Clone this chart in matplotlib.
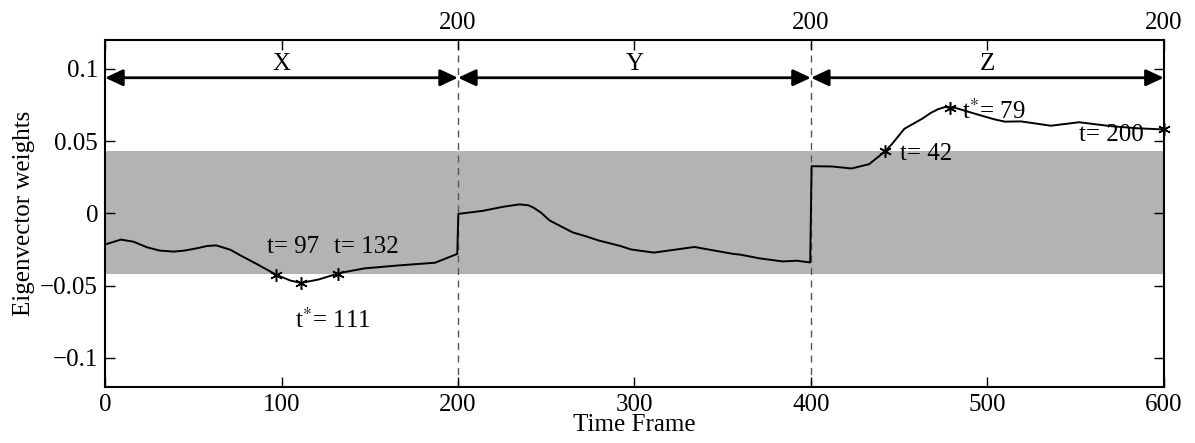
import numpy as np
import matplotlib.pyplot as plt
from matplotlib.ticker import FixedLocator

plt.rcParams['font.family'] = ['Liberation Serif', 'DejaVu Serif']
plt.rcParams['font.size'] = 18
plt.rcParams['mathtext.fontset'] = 'stix'

# eigenvector weight per time frame (three 200-frame sequences back to back)
frames = [0, 1, 9, 16, 24, 31, 39, 45, 52, 58, 63, 71, 77, 86, 94, 97, 105, 111, 121, 133, 147,
          167, 187, 199.6,
          200.2, 214, 226, 235, 240, 243, 247, 252, 258, 265, 273, 280, 292, 298, 311, 334, 356,
          360, 371, 384, 392, 399.6,
          400.4, 412, 423, 433, 442, 446, 453, 463, 468, 472, 476, 482, 493, 504, 510, 519, 536,
          552, 570, 584, 600]
weights = [-0.0217, -0.0212, -0.0182, -0.0196, -0.0236, -0.0258, -0.0265, -0.0258, -0.0242,
           -0.0226, -0.0222, -0.0252, -0.0293, -0.0351, -0.0405, -0.0425, -0.0465, -0.0482,
           -0.0458, -0.0413, -0.0381, -0.0360, -0.0342, -0.0281,
           -0.0004, 0.0017, 0.0046, 0.0062, 0.0055, 0.0038, 0.0005, -0.0050, -0.0088, -0.0132,
           -0.0161, -0.0189, -0.0226, -0.0250, -0.0272, -0.0233, -0.0281,
           -0.0286, -0.0312, -0.0333, -0.0328, -0.0340,
           0.0326, 0.0324, 0.0310, 0.0340, 0.0428, 0.0480, 0.0585, 0.0654, 0.0695, 0.0720,
           0.0735, 0.0729, 0.0689, 0.0650, 0.0634, 0.0636, 0.0606, 0.0630, 0.0603, 0.0589, 0.0580]

# marked frames and their annotations
mark_frames = [97, 111, 132, 442, 479, 600]
notes = ['t= 97', 't= 132', 't$^{*}$= 111', 't= 42', 't$^{*}$= 79', 't= 200']
note_x = [92, 129.5, 107.5, 450.5, 485.5, 552]
note_y = [-0.0236, -0.0236, -0.0744, 0.0410, 0.0705, 0.0540]

seg_edges = [0, 200, 400, 600]
seg_names = ['X', 'Y', 'Z']
band = (-0.0423, 0.0428)

fig = plt.figure(figsize=(11.95, 4.43), dpi=100)
ax = fig.add_axes([0.0879, 0.127, 0.886, 0.783])

ax.axhspan(band[0], band[1], color='#b3b3b3', lw=0, zorder=0)
for xb in seg_edges[1:-1]:
    ax.axvline(xb, color='#555555', ls=(0, (5, 4)), lw=1.0, zorder=1)

ax.plot(frames, weights, color='k', lw=1.4, zorder=3)
mark_y = np.interp(mark_frames, frames, weights)
ax.plot(mark_frames, mark_y, ls='none', marker=(6, 2, 0), ms=9, mew=1.1,
        color='k', zorder=4, clip_on=False)

for txt, tx, ty in zip(notes, note_x, note_y):
    ax.text(tx, ty, txt, ha='left', va='center', fontsize=18, zorder=5)

# double arrows spanning each sequence
for a, b, name in zip(seg_edges[:-1], seg_edges[1:], seg_names):
    ax.annotate('', xy=(a, 0.0938), xytext=(b, 0.0938),
                arrowprops=dict(arrowstyle='<|-|>,head_length=0.6,head_width=0.28',
                                color='k', lw=2, shrinkA=0, shrinkB=0))
    ax.text((a + b) / 2, 0.1035, name, ha='center', va='center', fontsize=18)

ax.set_xlim(0, 600)
ax.set_ylim(-0.12, 0.12)
ax.xaxis.set_major_locator(FixedLocator([0, 100, 200, 300, 400, 500, 600]))
ax.set_yticks([-0.1, -0.05, 0, 0.05, 0.1])
ax.set_yticklabels(['\u22120.1', '\u22120.05', '0', '0.05', '0.1'])
ax.tick_params(direction='in', length=7, width=1, top=True, right=True, pad=5)
for s in ax.spines.values():
    s.set_linewidth(1.5)

# sequence lengths along the top
top = ax.secondary_xaxis('top')
top.set_xticks([200, 400, 600])
top.set_xticklabels(['200', '200', '200'])
top.tick_params(length=0, pad=4)
top.spines['top'].set_visible(False)

ax.set_xlabel('Time Frame', labelpad=-1)
ax.set_ylabel('Eigenvector weights', labelpad=4)

fig.savefig('out.png', dpi=100)
